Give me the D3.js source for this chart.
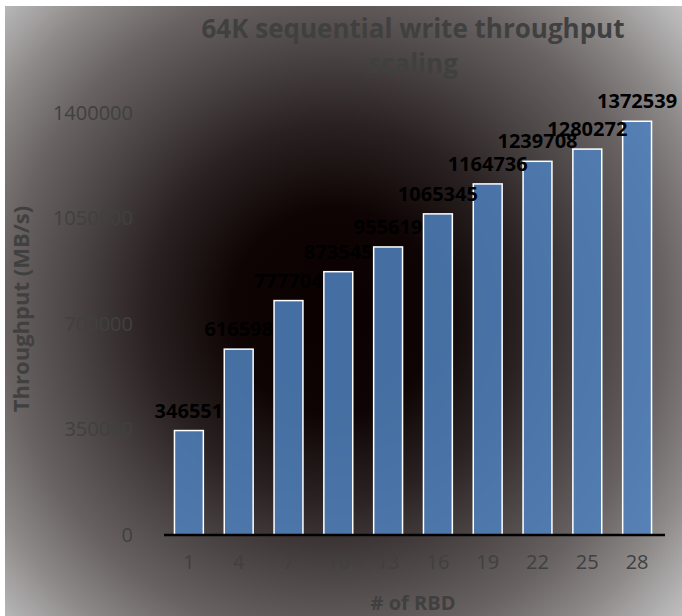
<!DOCTYPE html>
<html>
<head>
<meta charset="utf-8">
<script src="https://cdn.jsdelivr.net/npm/d3@7"></script>
<style>
  body { margin: 0; background: #fff; }
  svg { display: block; }
  text { font-family: "Open Sans", "DejaVu Sans", sans-serif; }
</style>
</head>
<body>
<svg id="chart" width="682" height="616"></svg>
<script>
// Number of RBDs on the x axis
const rbdCounts = ["1", "4", "7", "10", "13", "16", "19", "22", "25", "28"];
// 64K sequential write throughput (MB/s) for each RBD count
const throughput = [346551, 616598, 777704, 873545, 955619, 1065345, 1164736, 1239708, 1280272, 1372539];
// Value axis ticks
const yTicks = [0, 350000, 700000, 1050000, 1400000];
const titleLines = ["64K sequential write throughput", "scaling"];
const xTitle = "# of RBD";
const yTitle = "Throughput (MB/s)";

const svg = d3.select("#chart");
const W = 682, H = 616;
const frame = { x: 5, y: 6, w: W - 5, h: H - 6 };

// Radial backdrop: near-black centre fading to light grey corners
const defs = svg.append("defs");
const grad = defs.append("radialGradient")
  .attr("id", "bg")
  .attr("gradientUnits", "userSpaceOnUse")
  .attr("cx", 335).attr("cy", 312).attr("r", 470);
[
  [0.00, "#0b0000"],
  [0.22, "#0e0404"],
  [0.40, "#2a2222"],
  [0.55, "#4a4343"],
  [0.70, "#686262"],
  [0.83, "#8e8989"],
  [0.95, "#b5b5b5"],
  [1.00, "#c3c3c3"]
].forEach(([o, c]) => grad.append("stop").attr("offset", o).attr("stop-color", c));

svg.append("rect")
  .attr("x", frame.x).attr("y", frame.y)
  .attr("width", frame.w).attr("height", frame.h)
  .attr("fill", "url(#bg)");

// Scales
const x = d3.scaleBand()
  .domain(rbdCounts)
  .range([164, 662])
  .paddingInner(0.42)
  .paddingOuter(0.21);

const y = d3.scaleLinear()
  .domain([0, 1400000])
  .range([535, 113]);

// Title
svg.append("g")
  .selectAll("text")
  .data(titleLines)
  .join("text")
  .attr("x", (x.range()[0] + x.range()[1]) / 2)
  .attr("y", (d, i) => 38 + i * 35)
  .attr("text-anchor", "middle")
  .attr("font-size", 26)
  .attr("font-weight", 700)
  .attr("fill", "#404040")
  .text(d => d);

// Bars
svg.append("g")
  .selectAll("rect")
  .data(throughput)
  .join("rect")
  .attr("x", (d, i) => x(rbdCounts[i]))
  .attr("y", d => y(d))
  .attr("width", x.bandwidth())
  .attr("height", d => y(0) - y(d))
  .attr("fill", "#4F81BD")
  .attr("fill-opacity", 0.86)
  .attr("stroke", "#ffffff")
  .attr("stroke-width", 1.5);

// Value labels
svg.append("g")
  .selectAll("text")
  .data(throughput)
  .join("text")
  .attr("x", (d, i) => x(rbdCounts[i]) + x.bandwidth() / 2)
  .attr("y", d => y(d) - 13)
  .attr("text-anchor", "middle")
  .attr("font-size", 20)
  .attr("font-weight", 700)
  .attr("fill", "#000")
  .text(d => d);

// X axis
const xAxis = svg.append("g")
  .attr("transform", `translate(0,${y(0)})`)
  .call(d3.axisBottom(x).tickSize(0).tickSizeOuter(0).tickPadding(20));
xAxis.select(".domain")
  .attr("stroke", "#000")
  .attr("stroke-width", 2.5)
  .attr("d", `M${x.range()[0]},0H${x.range()[1] + 3}`);
xAxis.selectAll("text")
  .attr("font-size", 20)
  .attr("font-family", '"Open Sans", sans-serif')
  .attr("fill", "#404040");

// Y axis
const yAxis = svg.append("g")
  .attr("transform", "translate(140,0)")
  .call(d3.axisLeft(y).tickValues(yTicks).tickFormat(d3.format("d")).tickSize(0).tickPadding(7));
yAxis.select(".domain").remove();
yAxis.selectAll("text")
  .attr("font-size", 20)
  .attr("font-family", '"Open Sans", sans-serif')
  .attr("fill", "#404040");

// Axis titles
svg.append("text")
  .attr("x", (x.range()[0] + x.range()[1]) / 2)
  .attr("y", 610)
  .attr("text-anchor", "middle")
  .attr("font-size", 20)
  .attr("font-weight", 700)
  .attr("fill", "#404040")
  .text(xTitle);

svg.append("text")
  .attr("transform", "translate(29,309) rotate(-90)")
  .attr("text-anchor", "middle")
  .attr("font-size", 22)
  .attr("font-weight", 700)
  .attr("fill", "#404040")
  .text(yTitle);
</script>
</body>
</html>
